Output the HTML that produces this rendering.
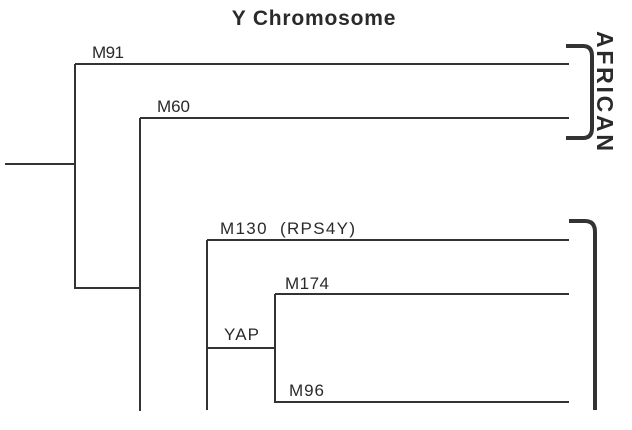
<!DOCTYPE html>
<html><head><style>
body{margin:0;background:#fff;}
svg{display:block}
text{font-family:"Liberation Sans",sans-serif;fill:#2a2a2a}
</style></head><body>
<svg width="632" height="430" viewBox="0 0 632 430" xmlns="http://www.w3.org/2000/svg">
<g stroke="#333" stroke-width="2" fill="none">
<path d="M5 164 H75"/>
<path d="M75 64 V288 H140"/>
<path d="M75 64 H569"/>
<path d="M140 118 V411"/>
<path d="M140 118 H569"/>
<path d="M207 240 V410"/>
<path d="M207 240 H569"/>
<path d="M207 348 H275"/>
<path d="M275 294 V402 H569"/>
<path d="M275 294 H569"/>
</g>
<g stroke="#333" stroke-width="4" fill="none">
<path d="M566 46 H583 Q592 46 592 56 V128 Q592 138 583 138 H566"/>
<path d="M569 221 H585 Q595 221 595 232 V410"/>
</g>
<text x="314" y="25" font-size="21" font-weight="bold" text-anchor="middle" letter-spacing="0.8">Y Chromosome</text>
<text transform="translate(597,31) rotate(90)" font-size="23" font-weight="bold" textLength="120">AFRICAN</text>
<g font-size="17">
<text x="92" y="58" textLength="32">M91</text>
<text x="157" y="112" textLength="33">M60</text>
<text x="220" y="234" textLength="135">M130 &#160;(RPS4Y)</text>
<text x="285" y="289" textLength="44">M174</text>
<text x="224" y="340" textLength="35">YAP</text>
<text x="289" y="396" textLength="35">M96</text>
</g>
</svg>
</body></html>
